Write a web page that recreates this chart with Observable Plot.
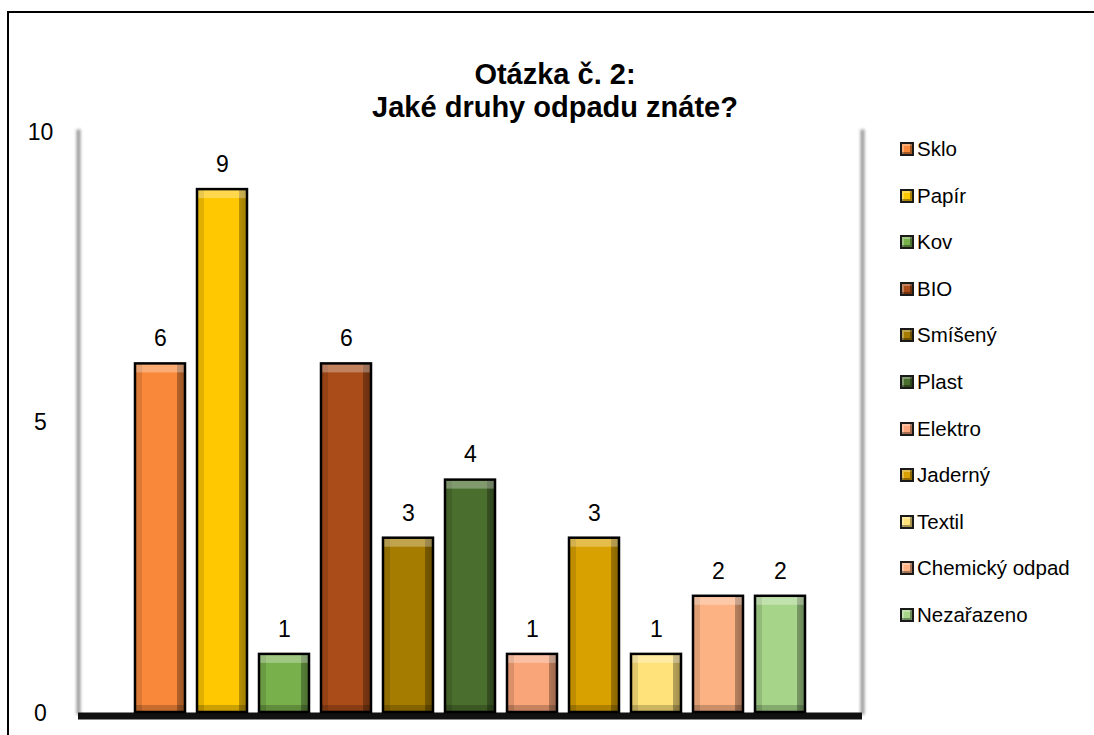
<!DOCTYPE html>
<html>
<head>
<meta charset="utf-8">
<script src="https://cdn.jsdelivr.net/npm/d3@7"></script>
<script src="https://cdn.jsdelivr.net/npm/@observablehq/plot@0.6"></script>
<style>
  html, body { margin: 0; padding: 0; background: #fff; overflow: hidden; width: 1094px; height: 735px; }
  body { position: relative; font-family: "Liberation Sans", Arial, sans-serif; color: #000; }
  #border { position: absolute; left: 7px; top: 11px; width: 2000px; height: 2000px; border: 2px solid #000; box-sizing: border-box; }
  #title { position: absolute; left: 555px; top: 58px; transform: translateX(-50%); text-align: center; font-weight: bold; font-size: 29px; line-height: 33px; white-space: nowrap; }
  #chart { position: absolute; left: 0; top: 120px; }
  #legend { position: absolute; left: 900px; top: 125.7px; }
  .row { height: 46.6px; display: flex; align-items: center; font-size: 20.5px; white-space: nowrap; }
  .sw { width: 14px; height: 14px; box-sizing: border-box; border: 2px solid #1a1a1a; margin-right: 3px; box-shadow: inset -2px -2px 0 rgba(0,0,0,0.35), inset 2px 2px 0 rgba(255,255,255,0.3); }
</style>
</head>
<body>
<div id="border"></div>
<div id="title">Otázka č. 2:<br>Jaké druhy odpadu znáte?</div>
<div id="chart"></div>
<div id="legend"></div>
<script>
const categories = ["Sklo", "Papír", "Kov", "BIO", "Smíšený", "Plast", "Elektro", "Jaderný", "Textil", "Chemický odpad", "Nezařazeno"];
const values = [6, 9, 1, 6, 3, 4, 1, 3, 1, 2, 2];
const colors = ["#F9883A", "#FFC800", "#78B04C", "#A94C19", "#A57C00", "#4A6E2E", "#F9A479", "#D9A100", "#FFE27A", "#FDB283", "#A6D58A"];
const yTicks = [0, 5, 10];

const data = categories.map((c, i) => ({category: c, value: values[i]}));

const plot = Plot.plot({
  width: 1094,
  height: 615,
  marginTop: 11,
  marginBottom: 23,
  marginLeft: 78,
  marginRight: 232,
  x: {domain: categories, paddingInner: 0.2, paddingOuter: 0.87, axis: null},
  y: {domain: [0, 10], axis: null},
  color: {domain: categories, range: colors},
  style: {fontFamily: "'Liberation Sans', Arial, sans-serif", background: "transparent", overflow: "visible"},
  marks: [
    Plot.frame({anchor: "left", stroke: "#9a9a9a", strokeWidth: 4, ariaLabel: "wall"}),
    Plot.frame({anchor: "right", stroke: "#9a9a9a", strokeWidth: 4, ariaLabel: "wall"}),
    Plot.ruleY([0], {stroke: "#111", strokeWidth: 7, dy: 3.5, ariaLabel: "floor"}),
    Plot.barY(data, {x: "category", y: "value", fill: "category"}),
    Plot.barY(data, {x: "category", y: "value", fill: "url(#hbevel)"}),
    Plot.barY(data, {x: "category", y1: "value", y2: "value", insetBottom: -9, fill: "white", fillOpacity: 0.3}),
    Plot.barY(data, {x: "category", y1: d => 0, y2: d => 0, insetTop: -7, fill: "black", fillOpacity: 0.2}),
    Plot.barY(data, {x: "category", y: "value", fill: "none", stroke: "#000", strokeWidth: 2.5}),
    Plot.text(data, {x: "category", y: "value", text: d => String(d.value), dy: -25, fontSize: 23, fill: "#000"}),
    Plot.text(yTicks, {y: d => d, text: d => String(d), frameAnchor: "left", textAnchor: "middle", dx: -38, dy: 1, fontSize: 23, fill: "#000"})
  ]
});

// defs for bevel gradient and shadows
const svg = d3.select(plot);
const defs = svg.insert("defs", ":first-child");
const g = defs.append("linearGradient").attr("id", "hbevel").attr("x1", 0).attr("x2", 1).attr("y1", 0).attr("y2", 0);
[[0, "#000", 0.12], [0.14, "#000", 0.12], [0.15, "#fff", 0], [0.83, "#fff", 0], [0.84, "#000", 0.28], [1, "#000", 0.38]]
  .forEach(([o, c, a]) => g.append("stop").attr("offset", o).attr("stop-color", c).attr("stop-opacity", a));
const blur = defs.append("filter").attr("id", "soft").attr("filterUnits", "userSpaceOnUse")
  .attr("x", 0).attr("y", 0).attr("width", 1094).attr("height", 615);
blur.append("feGaussianBlur").attr("stdDeviation", 1.8);
const fs = defs.append("filter").attr("id", "floorShadow").attr("filterUnits", "userSpaceOnUse")
  .attr("x", 0).attr("y", 0).attr("width", 1094).attr("height", 615);
fs.append("feDropShadow").attr("dx", 0).attr("dy", 4).attr("stdDeviation", 2.5).attr("flood-color", "#000").attr("flood-opacity", 0.55);
svg.selectAll('[aria-label="wall"]').attr("filter", "url(#soft)");
svg.selectAll('[aria-label="floor"]').attr("filter", "url(#floorShadow)");

document.getElementById("chart").appendChild(plot);

// legend
const legend = d3.select("#legend");
categories.forEach((c, i) => {
  const row = legend.append("div").attr("class", "row");
  row.append("span").attr("class", "sw").style("background", colors[i]);
  row.append("span").text(c);
});
</script>
</body>
</html>
